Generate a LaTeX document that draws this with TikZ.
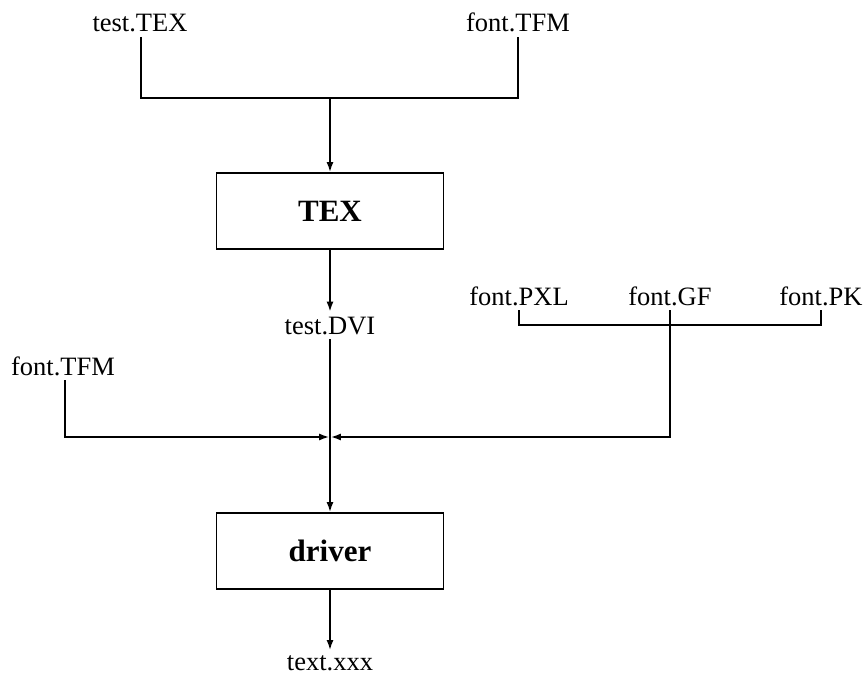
\documentclass[tikz,border=0pt]{standalone}
\usepackage{fontspec}
\setmainfont{Liberation Serif}
\usetikzlibrary{arrows.meta}
\begin{document}
\begin{tikzpicture}[x=1pt,y=-1pt,
  line width=1.7pt,
  lbl/.style={inner sep=3pt,outer sep=2pt,text depth=0pt,anchor=base,font=\fontsize{26.5}{31}\selectfont},
  procbox/.style={draw,line width=1.8pt,minimum width=227pt,minimum height=76pt,inner sep=0pt,font=\fontsize{31}{36}\selectfont\bfseries},
  arr/.style={-{Latex[length=10pt,width=7pt]}}]
\useasboundingbox (0,0) rectangle (866,676);
% top inputs
\node[lbl] (testtex) at (140,32) {test.TEX};
\node[lbl] (tfmtop) at (518,32) {font.TFM};
\coordinate (topjoin) at (330,98);
\node[procbox] (tex) at (330,211) {TEX};
\draw (testtex.south -| 141,0) |- (tfmtop.south |- topjoin) -- (tfmtop.south);
\draw[arr] (topjoin) -- (tex.north);
% DVI
\node[lbl] (dvi) at (330,334) {test.DVI};
\draw[arr] (tex.south) -- (dvi.north);
% pixel fonts
\node[lbl] (pxl) at (519,305) {font.PXL};
\node[lbl] (gf) at (670,305) {font.GF};
\node[lbl] (pk) at (821,305) {font.PK};
\coordinate (pixjoin) at (670,325);
\draw (pxl.south) |- (pixjoin) -| (pk.south);
\draw (gf.south) -- (pixjoin);
% left TFM
\node[lbl] (tfmleft) at (63,375) {font.TFM};
\coordinate (mid) at (330,437);
\node[procbox] (driver) at (330,551) {driver};
\draw[arr] (dvi.south) -- (driver.north);
\draw[arr,shorten >=0.8pt] (tfmleft.south -| 65,0) |- (mid);
\draw[arr,shorten >=0.8pt] (pixjoin) |- (mid);
% output
\node[lbl] (out) at (330,670) {text.xxx};
\draw[arr] (driver.south) -- (out.north);
\end{tikzpicture}
\end{document}
